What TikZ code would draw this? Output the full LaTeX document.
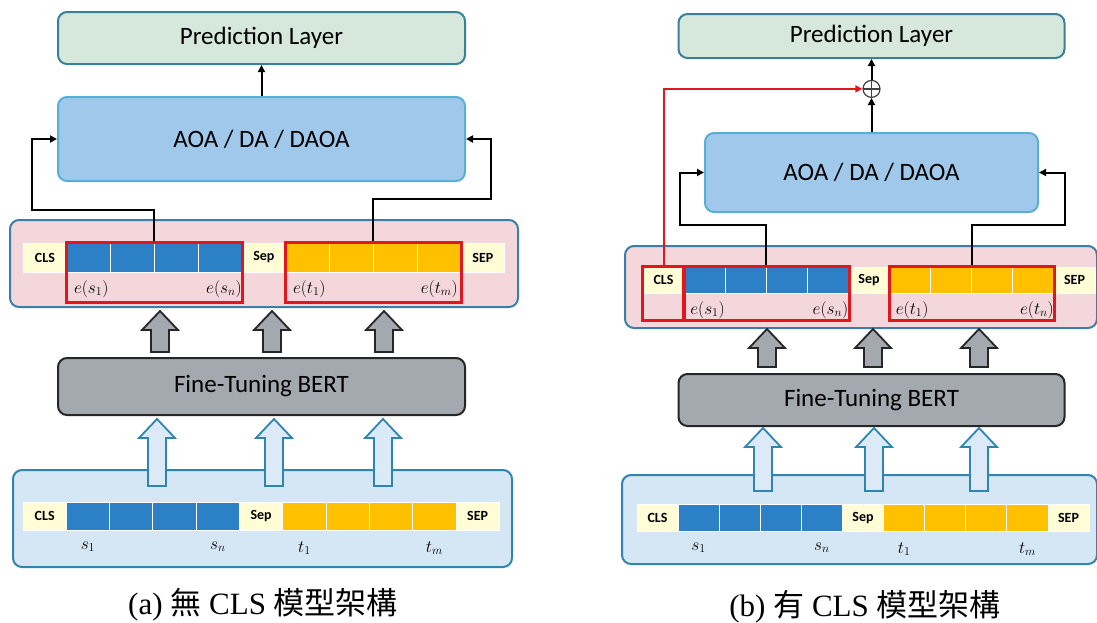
\documentclass[tikz,border=0pt]{standalone}
\usepackage{fontspec}
\setmainfont{Liberation Serif}
\newfontfamily\calib{Carlito}
\newfontfamily\cjk{Noto Sans CJK TC}
\usetikzlibrary{positioning,fit,calc,arrows.meta}

\definecolor{predfill}{HTML}{D5E8DB}
\definecolor{preddraw}{HTML}{3A8098}
\definecolor{aoafill}{HTML}{A0C8EA}
\definecolor{aoadraw}{HTML}{5AAED5}
\definecolor{pinkfill}{HTML}{F4D7DA}
\definecolor{pinkdraw}{HTML}{3A7FA8}
\definecolor{bertfill}{HTML}{A3A9AF}
\definecolor{infill}{HTML}{D5E6F5}
\definecolor{indraw}{HTML}{2F85B0}
\definecolor{cblue}{HTML}{2C80C6}
\definecolor{cyel}{HTML}{FFC000}
\definecolor{cpale}{HTML}{FFFCD6}
\definecolor{redc}{HTML}{E3161F}
\definecolor{upfill}{HTML}{DCEAF7}

\tikzset{
  layer/.style={rounded corners=9, line width=2, inner sep=0,
    font=\calib\fontsize{25}{30}\selectfont},
  pred/.style={layer, fill=predfill, draw=preddraw},
  attn/.style={layer, fill=aoafill, draw=aoadraw},
  embed/.style={layer, fill=pinkfill, draw=pinkdraw},
  bert/.style={layer, fill=bertfill, draw=black!85},
  input/.style={layer, fill=infill, draw=indraw},
  cell/.style={draw=white, line width=1, inner sep=0,
    font=\calib\bfseries\fontsize{14}{16}\selectfont},
  redbox/.style={draw=redc, line width=3, inner sep=0},
  mlabel/.style={inner sep=1, font=\fontsize{17.28}{20}\selectfont},
  grayblk/.style={fill=bertfill, draw=black!85, line width=1.8, line join=miter},
  blueblk/.style={fill=upfill, draw=indraw, line width=1.8, line join=miter},
  conn/.style={line width=2, ->},
  oplus/.style={circle, draw=black!75, line width=1.2, minimum size=17, inner sep=0,
    path picture={\draw[line width=1.2, black!75]
      (path picture bounding box.north) -- (path picture bounding box.south)
      (path picture bounding box.west) -- (path picture bounding box.east);}},
  caption/.style={font=\fontsize{31}{36}\selectfont}
}

% hollow block arrow pointing up at column #2, from point #3 to tip #4
\newcommand\uparrowblock[4]{%
  \draw[#1] let \p1=#3, \p2=#4 in
    (#2pt-9pt,\y1) -- (#2pt-9pt,\y2-19pt) -- (#2pt-18pt,\y2-19pt) -- (#2pt,\y2)
    -- (#2pt+18pt,\y2-19pt) -- (#2pt+9pt,\y2-19pt) -- (#2pt+9pt,\y1) -- cycle;}

\begin{document}
\begin{tikzpicture}[x=1pt, y=-1pt, >={Triangle[length=7pt,width=7pt]}]
\useasboundingbox (0,0) rectangle (1097,622);
\clip (0,0) rectangle (1097,622);

%% (a) without CLS
\node[pred,  minimum width=407, minimum height=52] (predA) at (261.5,38)  {Prediction Layer};
\node[attn,  minimum width=407, minimum height=84] (aoaA)  at (261.5,139) {AOA / DA / DAOA};
\node[embed, minimum width=508, minimum height=87] (pinkA) at (264,263.5) {};
\node[bert,  minimum width=407, minimum height=57] (bertA) at (261.5,386.5) {Fine-Tuning BERT};
\node[input, minimum width=499, minimum height=97] (inA)   at (262.5,518.5) {};

%% (b) with CLS
\node[pred,  minimum width=386, minimum height=44] (predB) at (871.5,36)    {Prediction Layer};
\node[attn,  minimum width=333, minimum height=79] (aoaB)  at (871.5,172.5) {AOA / DA / DAOA};
\node[embed, minimum width=472, minimum height=82] (pinkB) at (861,287)     {};
\node[bert,  minimum width=386, minimum height=52] (bertB) at (871.5,400)   {Fine-Tuning BERT};
\node[input, minimum width=475, minimum height=89] (inB)   at (859.5,519.5) {};
\node[oplus] (sum) [above=34pt of aoaB] {};

% token rows
\foreach \rw/\xo/\yo/\w/\h in {ea/23/257.5/43.8/29, wa/23/516/43.3/28,
                               eb/643/280/41.1/26, wb/637/517.5/41.1/27}
  \foreach \col/\lbl [count=\idx] in {cpale/CLS, cblue/{}, cblue/{}, cblue/{}, cblue/{},
                                      cpale/Sep, cyel/{}, cyel/{}, cyel/{}, cyel/{}, cpale/SEP}
    \node[cell, fill=\col, minimum width=\w, minimum height=\h] (\rw\idx)
      at ({\xo+\w*(\idx-0.5)},\yo) {\lbl};

% red groups
\node[redbox, fit={(ea2.north west) ($(ea5.south east)+(0,30)$)}]  (sa) {};
\node[redbox, fit={(ea7.north west) ($(ea10.south east)+(0,30)$)}] (ta) {};
\node[redbox, fit={(eb1.north west) ($(eb1.south east)+(0,27)$)}]  (ca) {};
\node[redbox, fit={(eb2.north west) ($(eb5.south east)+(0,27)$)}]  (sb) {};
\node[redbox, fit={(eb7.north west) ($(eb10.south east)+(0,27)$)}] (tb) {};

\node[mlabel, anchor=west] (esa1) at ([shift={(8,-15)}]sa.south west) {$e(s_1)$};
\node[mlabel, anchor=east] (esan) at ([shift={(-1,-15)}]sa.south east) {$e(s_n)$};
\node[mlabel, anchor=west] (eta1) at ([shift={(8,-15)}]ta.south west) {$e(t_1)$};
\node[mlabel, anchor=east] (etam) at ([shift={(-4,-15)}]ta.south east) {$e(t_m)$};
\node[mlabel, anchor=west] (esb1) at ([shift={(7,-12)}]sb.south west) {$e(s_1)$};
\node[mlabel, anchor=east] (esbn) at ([shift={(-1,-12)}]sb.south east) {$e(s_n)$};
\node[mlabel, anchor=west] (etb1) at ([shift={(7,-12)}]tb.south west) {$e(t_1)$};
\node[mlabel, anchor=east] (etbn) at ([shift={(-1,-12)}]tb.south east) {$e(t_n)$};

\node[mlabel] (sa1) [below=10pt of wa2]  {$s_1$};
\node[mlabel] (san) [below=10pt of wa5]  {$s_n$};
\node[mlabel] (ta1) [below=10pt of wa7]  {$t_1$};
\node[mlabel] (tam) [below=10pt of wa10] {$t_m$};
\node[mlabel] (sb1) [below=10pt of wb2]  {$s_1$};
\node[mlabel] (sbn) [below=10pt of wb5]  {$s_n$};
\node[mlabel] (tb1) [below=10pt of wb7]  {$t_1$};
\node[mlabel] (tbm) [below=10pt of wb10] {$t_m$};

% connectors
\draw[conn] (sa.north) -- ++(0,-31) -| ([xshift=-25pt]aoaA.west) -- (aoaA.west);
\draw[conn] (ta.north) -- ++(0,-42) -| ([xshift=25pt]aoaA.east) -- (aoaA.east);
\draw[conn] (aoaA.north) -- (predA.south);

\draw[conn] (sb.north) -- ++(0,-40) -| ([xshift=-24pt]aoaB.west) -- (aoaB.west);
\draw[conn] (tb.north) -- ++(0,-40) -| ([xshift=26pt]aoaB.east) -- (aoaB.east);
\draw[conn] (aoaB.north) -- (sum.south);
\draw[conn] (sum.north) -- (predB.south);
\draw[conn, draw=redc] (ca.north) |- (sum.west);

% block arrows
\foreach \px in {160,272,384}
  {\uparrowblock{grayblk}{\px}{([yshift=5pt]bertA.north)}{([yshift=-3pt]pinkA.south)}}
\foreach \px in {157,274,383}
  {\uparrowblock{blueblk}{\px}{([yshift=-17pt]inA.north)}{([yshift=-3pt]bertA.south)}}
\foreach \px in {767,873,979}
  {\uparrowblock{grayblk}{\px}{([yshift=6pt]bertB.north)}{(pinkB.south)}}
\foreach \px in {763,874,979}
  {\uparrowblock{blueblk}{\px}{([yshift=-17pt]inB.north)}{([yshift=-1pt]bertB.south)}}

\node[caption] (capA) at (263,605) {(a) {\cjk 無} CLS {\cjk 模型架構}};
\node[caption] (capB) at (865,607) {(b) {\cjk 有} CLS {\cjk 模型架構}};
\end{tikzpicture}
\end{document}
